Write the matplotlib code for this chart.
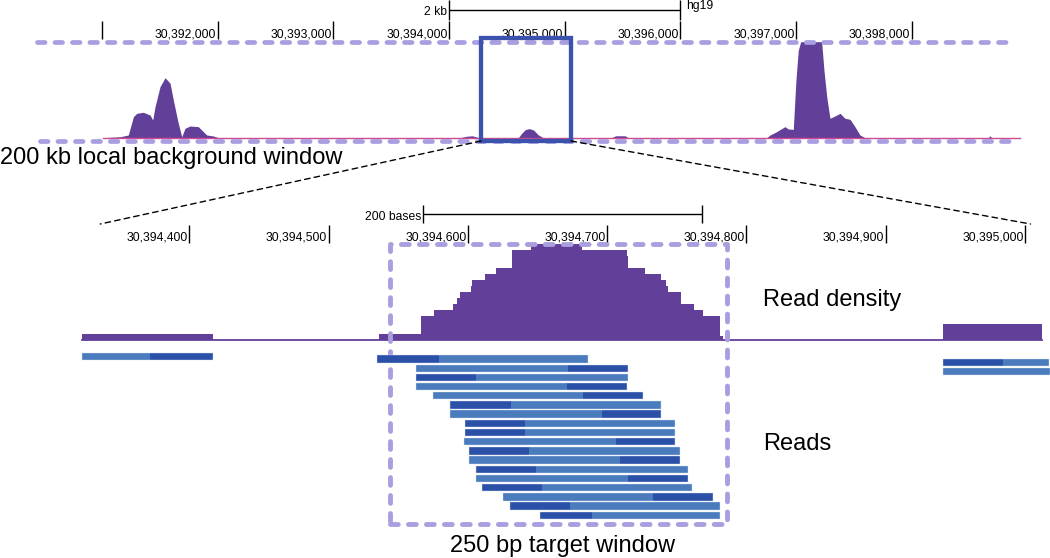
import matplotlib.pyplot as plt
from matplotlib import font_manager
from matplotlib.patches import Rectangle, ConnectionPatch
from matplotlib.transforms import offset_copy

W, H = 1050, 558

# colours
PURPLE = '#62409a'
LAVENDER = '#a89ee0'
BOX_BLUE = '#3b53ad'
READ_LIGHT = '#4a7bbd'
READ_DARK = '#2b50a8'
PINK = '#d04a8f'

# ---- top track (8 kb view) ----
top_pos = [30391009, 30391156, 30391227, 30391271, 30391300, 30391357, 30391415,
           30391438, 30391458, 30391501, 30391545, 30391588, 30391616, 30391659,
           30391689, 30391717, 30391761, 30391832, 30391876, 30391905, 30391962,
           30392005,
           30394094, 30394150, 30394200, 30394258,
           30394598, 30394630, 30394660, 30394693, 30394730, 30394770, 30394814,
           30395405, 30395440, 30395520, 30395549,
           30396745, 30396774, 30396831, 30396903, 30396932, 30396975, 30396998,
           30397018, 30397039, 30397220, 30397240, 30397264, 30397292, 30397335,
           30397379, 30397422, 30397465, 30397508, 30397551, 30397595,
           30398660, 30398675, 30398690, 30398934]
top_signal = [0, 1.0, 2.8, 21.9, 25.4, 26.5, 23.6,
              18.4, 32.3, 53.1, 62.5, 56.7, 39.3, 15,
              1.0, 9.8, 12.2, 11.5, 6.3, 2.8, 1.8,
              0,
              0, 1.5, 2, 0,
              0, 5, 8.5, 9.5, 8, 3, 0,
              0, 2, 2, 0,
              0, 2.8, 6.3, 11.5, 9.1, 8.7, 60,
              91, 100, 100, 70.5, 42.7, 20.2, 22.6,
              25.4, 20.2, 19.2, 11.5, 2.8, 0,
              0, 2, 0, 0]
top_ticks = [30391000, 30392000, 30393000, 30394000, 30395000, 30396000, 30397000, 30398000]
top_tick_labels = ['', '30,392,000', '30,393,000', '30,394,000', '30,395,000',
                   '30,396,000', '30,397,000', '30,398,000']
top_scale = [30394000, 30396000]
background_box = [30394276, 30395054]

# ---- zoomed track ----
zoom_view = [30394336, 30395004]
bottom_ticks = [30394400, 30394500, 30394600, 30394700, 30394800, 30394900, 30395000]
bottom_tick_labels = ['30,394,400', '30,394,500', '30,394,600', '30,394,700',
                      '30,394,800', '30,394,900', '30,395,000']
bottom_scale = [30394568, 30394768]
target_box = [30394544, 30394786]

dens_edges = [30394323, 30394417, 30394536, 30394566, 30394576, 30394589, 30394592,
              30394594, 30394602, 30394603, 30394612, 30394620, 30394632, 30394645,
              30394682, 30394714, 30394715, 30394727, 30394739, 30394742, 30394744,
              30394753, 30394762, 30394769, 30394781, 30394783, 30394941, 30395012]
dens_counts = [1, 0, 1, 4, 5, 6, 7, 8, 9, 10, 11, 12, 15, 16, 15, 14, 12, 11, 10,
               9, 8, 6, 5, 4, 0.6, 0, 2.6]

read_start = [30394323, 30394941, 30394941,
              30394535, 30394563, 30394563, 30394563, 30394575, 30394587, 30394587,
              30394598, 30394598, 30394597, 30394601, 30394601, 30394606, 30394606,
              30394610, 30394625, 30394630, 30394652]
read_end = [30394417, 30395017, 30395018,
            30394686, 30394715, 30394715, 30394714, 30394726, 30394739, 30394739,
            30394749, 30394749, 30394749, 30394752, 30394752, 30394758, 30394758,
            30394761, 30394776, 30394781, 30394781]
read_split = [30394372, 30394984, 30395018,
              30394579, 30394672, 30394606, 30394671, 30394683, 30394631, 30394696,
              30394641, 30394641, 30394706, 30394644, 30394709, 30394649, 30394715,
              30394653, 30394733, 30394673, 30394689]
read_dark_left = [False, True, False,
                  True, False, True, False, False, True, False,
                  True, True, False, True, False, True, False,
                  True, False, True, True]
read_row = [-0.29, 0.38, 1.38,
            0, 1, 2, 3, 4, 5, 6, 7, 8, 9, 10, 11, 12, 13, 14, 15, 16, 17]


def yt(px):
    # pixel row -> top track signal units
    return (137.7 - px) / 0.96


def yd(px):
    # pixel row -> read count units
    return (340 - px) / 6.0


def yr(px):
    # pixel row -> read row index
    return (px - 359) / 9.19


# IGV ruler uses a narrow sans; fall back to a smaller regular one
installed = {f.name for f in font_manager.fontManager.ttflist}
if 'Liberation Sans Narrow' in installed:
    ruler_font = dict(family='Liberation Sans Narrow', fontsize=10)
else:
    ruler_font = dict(family='Liberation Sans', fontsize=8.7)
big_font = dict(family=['Liberation Sans', 'DejaVu Sans'], fontsize=17)

fig = plt.figure(figsize=(W / 100, H / 100), dpi=100)

ax_top = fig.add_axes([0, 1 - 160 / H, 1, 160 / H])
ax_top.set_xlim(30390118, 30399194)
ax_top.set_ylim(yt(160), yt(0))
ax_top.axis('off')

ax_dens = fig.add_axes([0, 0, 1, (H - 195) / H])
ax_dens.set_xlim(30394264, 30395018)
ax_dens.set_ylim(yd(H), yd(195))
ax_dens.axis('off')

ax_reads = fig.add_axes([0, 0, 1, (H - 195) / H])
ax_reads.set_xlim(30394264, 30395018)
ax_reads.set_ylim(yr(H), yr(195))
ax_reads.axis('off')

# --- top track ---
ax_top.fill_between(top_pos, top_signal, 0, color=PURPLE, lw=0, zorder=2)
ax_top.plot([top_pos[0], top_pos[-1]], [0, 0], color=PINK, lw=1, zorder=3)
dash = (0, (1.6, 2.1))
ax_top.plot([30390438, 30398874], [100, 100], color=LAVENDER, lw=3.4, ls=dash,
            dash_capstyle='round', zorder=4, clip_on=False)
ax_top.plot([30390464, 30398874], [yt(141), yt(141)], color=LAVENDER, lw=3.4, ls=dash,
            dash_capstyle='round', zorder=4, clip_on=False)
ax_top.add_patch(Rectangle((background_box[0], yt(141)), background_box[1] - background_box[0],
                           yt(38.3) - yt(141), fill=False, ec=BOX_BLUE, lw=3.1, zorder=5))

ax_top.vlines(top_ticks, yt(39.3), yt(20.7), color='black', lw=1)
lab_tr = offset_copy(ax_top.transData, fig=fig, x=-1.5, y=0, units='dots')
for t, lab in zip(top_ticks, top_tick_labels):
    ax_top.text(t, yt(37.5), lab, ha='right', va='baseline', transform=lab_tr, **ruler_font)

ax_top.hlines(yt(10), top_scale[0], top_scale[1], color='black', lw=1)
ax_top.vlines(top_scale, yt(20), yt(0), color='black', lw=1)
ax_top.text(top_scale[0], yt(15), '2 kb', ha='right', va='baseline',
            transform=offset_copy(ax_top.transData, fig=fig, x=-2, y=0, units='dots'), **ruler_font)
ax_top.text(top_scale[1], yt(9.5), 'hg19', ha='left', va='baseline',
            transform=offset_copy(ax_top.transData, fig=fig, x=6, y=0, units='dots'), **ruler_font)

# --- zoomed density ---
ax_dens.plot([dens_edges[0], dens_edges[-1]], [0, 0], color=PURPLE, lw=1.3, zorder=2)
ax_dens.stairs(dens_counts, dens_edges, fill=True, color=PURPLE, lw=0, zorder=2)

ax_dens.vlines(bottom_ticks, yd(243), yd(225), color='black', lw=1)
lab_tr_b = offset_copy(ax_dens.transData, fig=fig, x=-1.5, y=0, units='dots')
for t, lab in zip(bottom_ticks, bottom_tick_labels):
    ax_dens.text(t, yd(240.5), lab, ha='right', va='baseline', transform=lab_tr_b, **ruler_font)

ax_dens.hlines(yd(214), bottom_scale[0], bottom_scale[1], color='black', lw=1)
ax_dens.vlines(bottom_scale, yd(223), yd(205), color='black', lw=1)
ax_dens.text(bottom_scale[0], yd(219.5), '200 bases', ha='right', va='baseline',
             transform=offset_copy(ax_dens.transData, fig=fig, x=-2, y=0, units='dots'), **ruler_font)

# --- reads ---
bar_h = 0.8
for s, e, sp, dl, r in zip(read_start, read_end, read_split, read_dark_left, read_row):
    if dl:
        parts = [(s, sp, READ_DARK), (sp, e, READ_LIGHT)]
    else:
        parts = [(s, sp, READ_LIGHT), (sp, e, READ_DARK)]
    for a, b, c in parts:
        if b > a:
            ax_reads.barh(r, b - a, left=a, height=bar_h, color=c, lw=0, zorder=2)
    ax_reads.barh(r, e - s, left=s, height=bar_h, fill=False, ec='#d6dff0', lw=0.3, zorder=3)

# target window
ax_dens.add_patch(Rectangle((target_box[0], yd(524)), target_box[1] - target_box[0],
                            yd(244.3) - yd(524), fill=False, ec=LAVENDER, lw=3.5,
                            ls=dash, capstyle='round', joinstyle='round', zorder=6))

# connector lines between the tracks
for xa, xb in [(background_box[0], zoom_view[0]), (background_box[1], zoom_view[1])]:
    con = ConnectionPatch(xyA=(xa, yt(141)), coordsA=ax_top.transData,
                          xyB=(xb, yd(224)), coordsB=ax_dens.transData,
                          color='black', lw=1.0, ls=(0, (4, 3)))
    fig.add_artist(con)

fig.text(0 / W, 1 - 158 / H, '200 kb local background window', ha='left', va='center', **big_font)
fig.text(763 / W, 1 - 300 / H, 'Read density', ha='left', va='center', **big_font)
fig.text(763 / W, 1 - 444 / H, 'Reads', ha='left', va='center', **big_font)
fig.text(562 / W, 1 - 546 / H, '250 bp target window', ha='center', va='center', **big_font)

fig.savefig('out.png', dpi=100)
